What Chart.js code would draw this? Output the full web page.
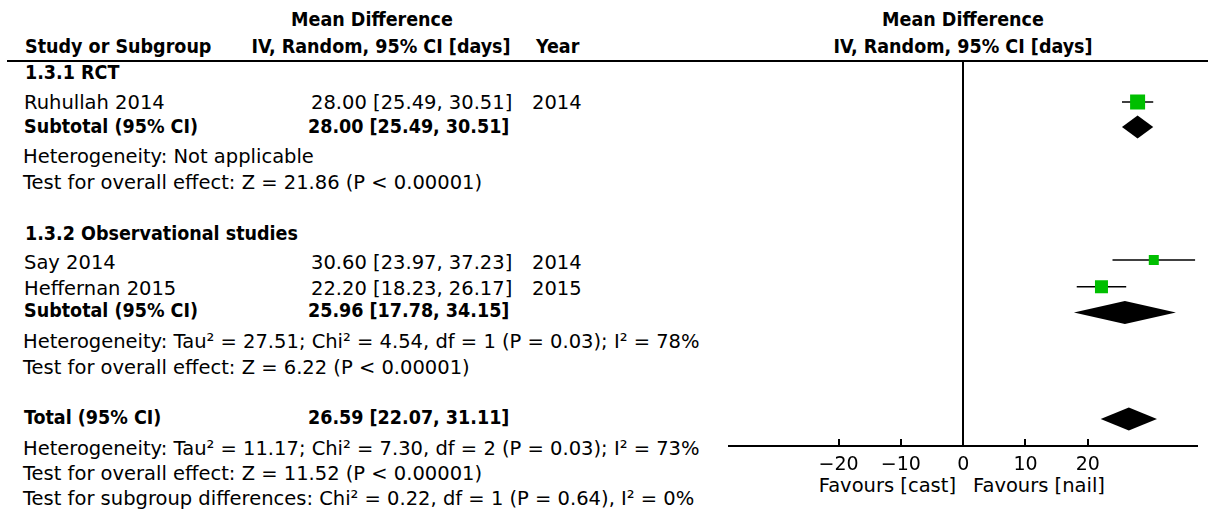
<!DOCTYPE html>
<html>
<head>
<meta charset="utf-8">
<script src="https://cdn.jsdelivr.net/npm/chart.js@4.4.1/dist/chart.umd.min.js"></script>
<style>
  body { margin: 0; width: 1208px; height: 514px; background: #fff; position: relative; overflow: hidden;
         font-family: "DejaVu Sans", sans-serif; color: #000; }
  .t { position: absolute; white-space: nowrap; line-height: 20px; font-size: 19.5px; }
  .b { font-family: "DejaVu Sans Condensed", "DejaVu Sans", sans-serif; font-weight: bold; font-size: 19.5px; }
  .c { transform: translateX(-50%); }
  .r { transform: translateX(-100%); }
  #rule { position: absolute; left: 7px; right: 0; top: 60px; height: 2px; background: #000; }
  #plot { position: absolute; left: 700px; top: 0; width: 508px; height: 514px; }
</style>
</head>
<body>
<div id="rule"></div>
<div id="text"></div>
<div id="plot"><canvas id="forest"></canvas></div>
<script>
// study rows
const studies = ["Ruhullah 2014", "Say 2014", "Heffernan 2015"];
const years = [2014, 2014, 2015];
const md = [28.00, 30.60, 22.20];
const ciLow = [25.49, 23.97, 18.23];
const ciHigh = [30.51, 37.23, 26.17];

// pooled rows (subtotal RCT, subtotal observational, total)
const pooledLabels = ["Subtotal (95% CI)", "Subtotal (95% CI)", "Total (95% CI)"];
const pooledMd = [28.00, 25.96, 26.59];
const pooledLow = [25.49, 17.78, 22.07];
const pooledHigh = [30.51, 34.15, 31.11];

const tickValues = [-20, -10, 0, 10, 20];

// row positions (in text lines from the top rule) and square sizes
const studyRow = [1.6, 7.75, 8.8];
const pooledRow = [2.57, 9.8, 13.95];
const boxSide = [15, 10, 13];

const ci = (m, l, h) => m.toFixed(2) + " [" + l.toFixed(2) + ", " + h.toFixed(2) + "]";

// left-hand text
const lines = [
  ["Mean Difference", 372, 20, "b c"],
  ["Study or Subgroup", 25, 47, "b"],
  ["IV, Random, 95% CI [days]", 381, 47, "b c"],
  ["Year", 536, 47, "b"],
  ["Mean Difference", 963, 20, "b c"],
  ["IV, Random, 95% CI [days]", 963, 47, "b c"],
  ["1.3.1 RCT", 25, 73, "b"],
  [studies[0], 24, 103, ""],
  [ci(md[0], ciLow[0], ciHigh[0]), 311, 103, ""],
  [String(years[0]), 532, 103, ""],
  [pooledLabels[0], 24, 127, "b"],
  [ci(pooledMd[0], pooledLow[0], pooledHigh[0]), 308, 127, "b"],
  ["Heterogeneity: Not applicable", 23, 157, ""],
  ["Test for overall effect: Z = 21.86 (P < 0.00001)", 23, 183, ""],
  ["1.3.2 Observational studies", 25, 234, "b"],
  [studies[1], 24, 263, ""],
  [ci(md[1], ciLow[1], ciHigh[1]), 311, 263, ""],
  [String(years[1]), 532, 263, ""],
  [studies[2], 24, 289, ""],
  [ci(md[2], ciLow[2], ciHigh[2]), 311, 289, ""],
  [String(years[2]), 532, 289, ""],
  [pooledLabels[1], 24, 311, "b"],
  [ci(pooledMd[1], pooledLow[1], pooledHigh[1]), 308, 311, "b"],
  ["Heterogeneity: Tau² = 27.51; Chi² = 4.54, df = 1 (P = 0.03); I² = 78%", 23, 342, ""],
  ["Test for overall effect: Z = 6.22 (P < 0.00001)", 23, 368, ""],
  [pooledLabels[2], 24, 418, "b"],
  [ci(pooledMd[2], pooledLow[2], pooledHigh[2]), 308, 418, "b"],
  ["Heterogeneity: Tau² = 11.17; Chi² = 7.30, df = 2 (P = 0.03); I² = 73%", 23, 449, ""],
  ["Test for overall effect: Z = 11.52 (P < 0.00001)", 23, 474, ""],
  ["Test for subgroup differences: Chi² = 0.22, df = 1 (P = 0.64), I² = 0%", 23, 499, ""],
  ["Favours [cast]", 956, 486, "r"],
  ["Favours [nail]", 973, 486, ""]
];
const box = document.getElementById("text");
lines.forEach(([txt, x, y, cls]) => {
  const d = document.createElement("div");
  d.className = "t " + cls;
  d.style.left = x + "px";
  d.style.top = (y - 10) + "px";
  d.textContent = txt;
  box.appendChild(d);
});

// diamonds and inward tick marks
const forestExtras = {
  id: "forestExtras",
  afterDatasetsDraw(chart) {
    const { ctx, scales: { x, y }, chartArea } = chart;
    ctx.save();
    ctx.fillStyle = "#000";
    pooledMd.forEach((m, i) => {
      const cy = y.getPixelForValue(pooledRow[i]);
      ctx.beginPath();
      ctx.moveTo(x.getPixelForValue(pooledLow[i]), cy);
      ctx.lineTo(x.getPixelForValue(m), cy - 11.5);
      ctx.lineTo(x.getPixelForValue(pooledHigh[i]), cy);
      ctx.lineTo(x.getPixelForValue(m), cy + 11.5);
      ctx.closePath();
      ctx.fill();
    });
    ctx.strokeStyle = "#000";
    ctx.lineWidth = 2;
    tickValues.forEach(v => {
      const px = Math.round(x.getPixelForValue(v));
      ctx.beginPath();
      ctx.moveTo(px, chartArea.bottom);
      ctx.lineTo(px, chartArea.bottom - 7);
      ctx.stroke();
    });
    ctx.restore();
  }
};

const datasets = [{
  type: "scatter",
  data: md.map((m, i) => ({ x: m, y: studyRow[i] })),
  pointStyle: "rect",
  pointRadius: boxSide.map(s => s / 2 / Math.SQRT1_2),
  pointHoverRadius: boxSide.map(s => s / 2 / Math.SQRT1_2),
  backgroundColor: "#00bf00",
  borderWidth: 0
}];
studies.forEach((s, i) => {
  datasets.push({
    type: "scatter",
    showLine: true,
    data: [{ x: ciLow[i], y: studyRow[i] }, { x: ciHigh[i], y: studyRow[i] }],
    borderColor: "#000",
    borderWidth: 1.5,
    pointRadius: 0
  });
});

new Chart(document.getElementById("forest"), {
  type: "scatter",
  data: { datasets },
  options: {
    responsive: true,
    maintainAspectRatio: false,
    animation: false,
    layout: { padding: { left: 29, right: 10, top: 61, bottom: 0 } },
    plugins: { legend: { display: false }, tooltip: { enabled: false } },
    scales: {
      x: {
        type: "linear",
        min: -37.6,
        max: 37.6,
        afterBuildTicks: s => { s.ticks = tickValues.map(v => ({ value: v })); },
        afterFit: s => { s.height = 68; },
        grid: {
          drawTicks: false,
          color: c => (c.tick && c.tick.value === 0 ? "#000" : "rgba(0,0,0,0)"),
          lineWidth: 2
        },
        border: { display: true, color: "#000", width: 2 },
        ticks: {
          padding: 8,
          color: "#000",
          font: { family: "DejaVu Sans", size: 19 },
          callback: v => (v < 0 ? "\u2212" + Math.abs(v) : String(v))
        }
      },
      y: { type: "linear", min: 0, max: 15, reverse: true, display: false }
    }
  },
  plugins: [forestExtras]
});
</script>
</body>
</html>
